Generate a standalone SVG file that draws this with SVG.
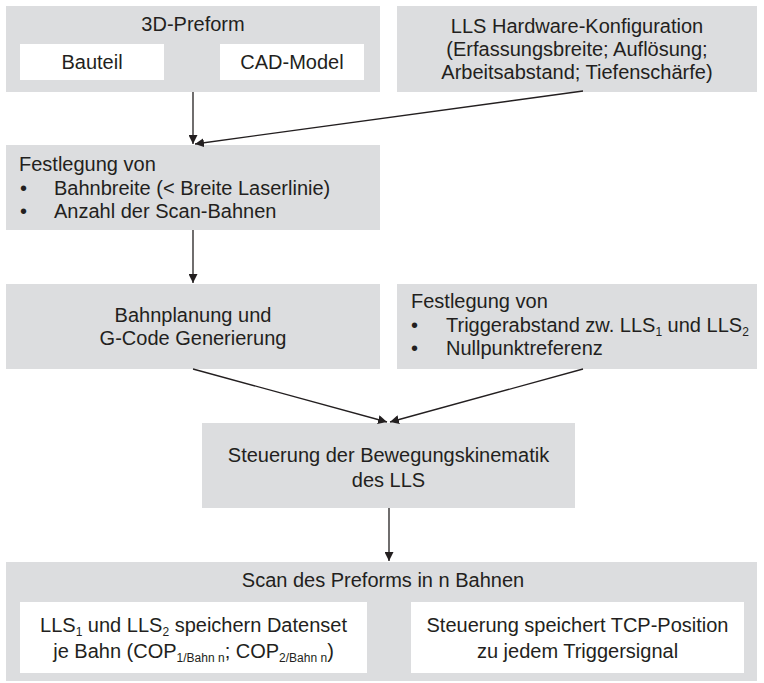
<svg xmlns="http://www.w3.org/2000/svg" width="764" height="683" viewBox="0 0 764 683">
<style>
.box{fill:#dcdddf}
.wbox{fill:#ffffff}
text{font-family:"Liberation Sans",Arial,sans-serif;font-size:20px;fill:#231f20}
.c{text-anchor:middle}
.sub{font-size:12px}
.conn{stroke:#231f20;stroke-width:1.3;fill:none;marker-end:url(#ah)}
</style>
<defs>
<marker id="ah" viewBox="0 0 10 10" refX="10" refY="5" markerWidth="9" markerHeight="9" markerUnits="userSpaceOnUse" orient="auto">
<path d="M0,0 L10,5 L0,10 Z" fill="#231f20"/>
</marker>
</defs>
<rect width="764" height="683" fill="#ffffff"/>

<g id="preform">
<rect class="box" x="6" y="6" width="374" height="86"/>
<text class="c" x="193" y="31">3D-Preform</text>
<rect class="wbox" x="20" y="44" width="144" height="36"/>
<text class="c" x="92" y="69">Bauteil</text>
<rect class="wbox" x="220" y="44" width="144" height="36"/>
<text class="c" x="292" y="69">CAD-Model</text>
</g>

<g id="hardware">
<rect class="box" x="397" y="6" width="360" height="86"/>
<text class="c" x="577" y="33">LLS Hardware-Konfiguration</text>
<text class="c" x="577" y="56">(Erfassungsbreite; Auflösung;</text>
<text class="c" x="577" y="79">Arbeitsabstand; Tiefenschärfe)</text>
</g>

<g id="festlegung1">
<rect class="box" x="6" y="145" width="374" height="85"/>
<text x="19" y="171">Festlegung von</text>
<text x="20" y="195">•</text>
<text x="54" y="195">Bahnbreite (&lt; Breite Laserlinie)</text>
<text x="20" y="218">•</text>
<text x="54" y="218">Anzahl der Scan-Bahnen</text>
</g>

<g id="bahnplanung">
<rect class="box" x="6" y="284" width="374" height="85"/>
<text class="c" x="193" y="322">Bahnplanung und</text>
<text class="c" x="193" y="345">G-Code Generierung</text>
</g>

<g id="festlegung2">
<rect class="box" x="397" y="284" width="360" height="85"/>
<text x="411" y="308">Festlegung von</text>
<text x="411" y="332">•</text>
<text x="446" y="332">Triggerabstand zw. LLS<tspan class="sub" dy="4">1</tspan><tspan dy="-4"> und LLS</tspan><tspan class="sub" dy="4">2</tspan></text>
<text x="411" y="355">•</text>
<text x="446" y="355">Nullpunktreferenz</text>
</g>

<g id="steuerung">
<rect class="box" x="202" y="423" width="373" height="85"/>
<text class="c" x="388.5" y="462">Steuerung der Bewegungskinematik</text>
<text class="c" x="388.5" y="487">des LLS</text>
</g>

<g id="scan">
<rect class="box" x="6" y="562" width="751" height="119"/>
<text class="c" x="383" y="587">Scan des Preforms in n Bahnen</text>
<rect class="wbox" x="20" y="602" width="347" height="71"/>
<text class="c" x="193.5" y="632">LLS<tspan class="sub" dy="4">1</tspan><tspan dy="-4"> und LLS</tspan><tspan class="sub" dy="4">2</tspan><tspan dy="-4"> speichern Datenset</tspan></text>
<text class="c" x="193.5" y="658">je Bahn (COP<tspan class="sub" dy="4">1/Bahn n</tspan><tspan dy="-4">; COP</tspan><tspan class="sub" dy="4">2/Bahn n</tspan><tspan dy="-4">)</tspan></text>
<rect class="wbox" x="411" y="602" width="333" height="71"/>
<text class="c" x="577.5" y="632">Steuerung speichert TCP-Position</text>
<text class="c" x="577.5" y="658">zu jedem Triggersignal</text>
</g>

<g id="connectors">
<line class="conn" x1="193" y1="92" x2="193" y2="144"/>
<line class="conn" x1="583" y1="91" x2="195" y2="144"/>
<line class="conn" x1="193" y1="230" x2="193" y2="283"/>
<line class="conn" x1="193" y1="369" x2="387" y2="422"/>
<line class="conn" x1="583" y1="369" x2="390" y2="422"/>
<line class="conn" x1="389" y1="508" x2="389" y2="561"/>
</g>
</svg>
